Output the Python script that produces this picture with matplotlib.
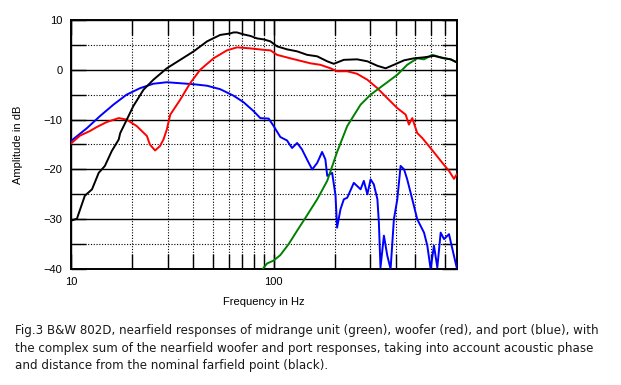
"""
B&W 802D nearfield responses (Fig.3).
"""
import matplotlib
matplotlib.use('Agg')
import matplotlib.pyplot as plt
from matplotlib.ticker import FixedLocator, NullFormatter

# ── Data ──
sum_freq = [10.0, 10.7, 11.7, 12.7, 13.7, 14.7, 15.9, 17.2, 17.5, 18.5, 20.3,
            22.8, 25.5, 29.7, 34.6, 40.3, 46.9, 54.5, 61.1, 63.4, 65.9, 71.1,
            76.7, 82.8, 89.4, 96.4, 104, 116.5, 130.6, 146.3, 164, 183.8, 198,
            222, 258, 290, 325, 357, 392, 440, 492, 552, 618, 693, 747, 800]
sum_db = [-30.3, -29.9, -25.3, -24.0, -20.7, -19.3, -16.3, -14.0, -12.7, -10.7,
          -7.3, -4.0, -2.0, 0.3, 2.0, 3.7, 5.7, 7.0, 7.3, 7.5, 7.5, 7.1,
          6.8, 6.3, 6.1, 5.7, 4.7, 4.1, 3.7, 3.0, 2.7, 1.7, 1.2,
          2.0, 2.1, 1.7, 0.8, 0.3, 1.0, 1.9, 2.3, 2.5, 2.8, 2.3, 2.1, 1.5]

mid_freq = [88.3, 92.7, 100, 107.9, 118.6, 130.6, 143.6, 164, 183.8, 205.6,
            230.7, 268.5, 300.8, 350, 407.5, 456, 511, 552, 607, 667, 747, 800]
mid_db = [-40.0, -38.9, -38.3, -37.2, -35.0, -32.3, -29.7, -26.0, -22.3, -16.5,
          -11.3, -7.0, -5.0, -3.0, -1.0, 1.0, 2.3, 2.1, 3.0, 2.5, 2.1, 1.5]

woof_freq = [10.0, 11.1, 12.4, 13.4, 15.0, 17.2, 18.8, 21.1, 23.7, 24.5, 26.0,
             27.5, 28.6, 29.7, 30.9, 34.6, 38.7, 43.4, 50.5, 58.8, 65.9, 76.7,
             89.4, 96.4, 104, 120.9, 151.9, 170, 190.7, 205.6, 230.7, 258, 290,
             325, 363.6, 407.5, 448, 465, 483, 511, 541, 583, 630, 680, 733,
             776, 800]
woof_db = [-14.8, -13.2, -12.3, -11.5, -10.5, -9.7, -10.0, -11.3, -13.3, -15.0,
           -16.2, -15.3, -14.0, -12.0, -9.0, -6.0, -2.7, 0.0, 2.3, 3.9, 4.5, 4.3,
           4.0, 3.9, 3.0, 2.3, 1.3, 1.0, 0.3, -0.3, -0.3, -0.8, -2.0,
           -3.7, -5.7, -7.7, -9.0, -11.0, -9.7, -12.7, -13.7, -15.3, -17.0, -18.7,
           -20.3, -21.9, -21.0]

port_freq = [10.0, 12.0, 13.9, 16.2, 18.8, 21.9, 25.5, 29.7, 34.6, 40.3, 46.9,
             54.5, 63.4, 71.0, 79.6, 85.9, 94.5, 100, 107.9, 116.5, 118.6, 123.3,
             130.6, 138, 149, 155, 164, 173.4, 180, 183.8, 194.4, 202, 205.6,
             213.7, 222, 230.7, 248.6, 268.5, 278.6, 290, 300.8, 312, 325, 330.5,
             336.6, 350, 363.6, 377.6, 392, 407.5, 423, 440, 456, 483, 511, 552,
             573, 595, 618, 642, 667, 693, 733, 762, 800]
port_db = [-14.3, -11.7, -9.3, -7.0, -5.0, -3.7, -2.8, -2.5, -2.7, -2.9, -3.2,
           -3.9, -5.2, -6.5, -8.3, -9.7, -9.8, -11.3, -13.5, -14.2, -14.7, -15.7,
           -14.7, -16.0, -18.7, -20.0, -18.7, -16.5, -18.0, -21.3, -20.7, -25.3, -31.7,
           -28.0, -26.0, -25.7, -22.7, -24.0, -22.3, -25.0, -22.0, -23.0, -26.0, -30.7,
           -39.7, -33.3, -37.3, -40.0, -30.0, -26.0, -19.3, -20.0, -22.0, -26.0, -30.0, -32.7,
           -35.3, -40.0, -35.3, -39.7, -32.7, -34.0, -33.0, -36.0, -39.7]

caption = ('Fig.3 B&W 802D, nearfield responses of midrange unit (green), woofer (red), and port (blue), with\n'
           'the complex sum of the nearfield woofer and port responses, taking into account acoustic phase\n'
           'and distance from the nominal farfield point (black).')

# ── Figure ──
fig = plt.figure(figsize=(6.21, 3.85), dpi=100)
ax = fig.add_axes([0.1143, 0.3013, 0.6211, 0.6468])

LW = 1.4
ax.plot(port_freq, port_db, color='#0000ff', lw=LW, zorder=3)
ax.plot(woof_freq, woof_db, color='#ff0000', lw=LW, zorder=4)
ax.plot(mid_freq, mid_db, color='#008000', lw=LW, zorder=5)
ax.plot(sum_freq, sum_db, color='#000000', lw=LW, zorder=6)

ax.set_xscale('log')
ax.set_xlim(10, 800)
ax.set_ylim(-40, 10)

# ticks / grid
ax.xaxis.set_major_locator(FixedLocator([10, 100]))
ax.xaxis.set_minor_locator(FixedLocator([20, 30, 40, 50, 60, 70, 80, 90,
                                         200, 300, 400, 500, 600, 700]))
ax.xaxis.set_minor_formatter(NullFormatter())
ax.set_xticklabels(['10', '100'])
ax.yaxis.set_major_locator(FixedLocator([-40, -30, -20, -10, 0, 10]))
ax.yaxis.set_minor_locator(FixedLocator([-35, -25, -15, -5, 5]))

ax.grid(which='major', color='black', lw=1.0, ls='-', zorder=1)
ax.grid(which='minor', color='black', lw=0.8, ls=(0, (1, 1.5)), zorder=1)
ax.tick_params(which='both', direction='in', length=11, width=1.0,
               top=True, right=True, color='black')
ax.tick_params(which='major', labelsize=8, pad=6)
for lab in ax.get_xticklabels() + ax.get_yticklabels():
    lab.set_family('Liberation Sans')
for s in ax.spines.values():
    s.set_linewidth(1.4)

ax.set_xlabel('Frequency in Hz', fontsize=8, family='Liberation Sans', labelpad=7)
ax.set_ylabel('Amplitude in dB', fontsize=8, family='Liberation Sans', labelpad=15)

fig.text(0.024, 0.158, caption, ha='left', va='top', fontsize=8.6,
         family='DejaVu Sans', color='#1a1a1a', linespacing=1.45)

fig.savefig('out.png', dpi=100)
